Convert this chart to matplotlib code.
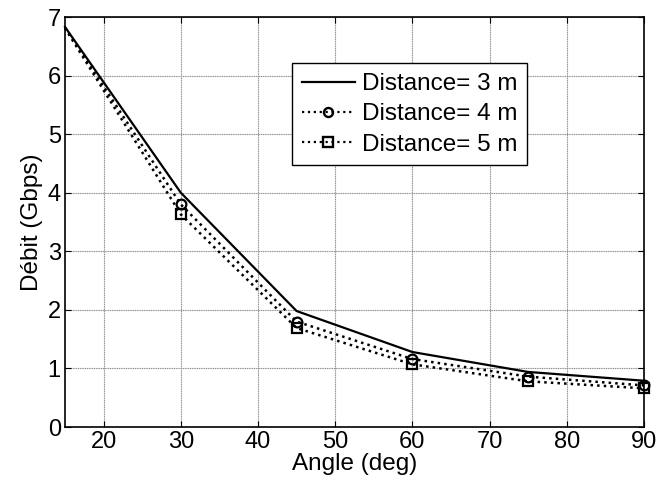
import matplotlib
matplotlib.use("Agg")
import matplotlib.pyplot as plt
from matplotlib.lines import Line2D

angles = [15, 30, 45, 60, 75, 90]
debit_3m = [6.83, 4.00, 1.98, 1.28, 0.94, 0.79]
debit_4m = [6.82, 3.80, 1.80, 1.16, 0.86, 0.71]
debit_5m = [6.81, 3.63, 1.69, 1.07, 0.78, 0.66]
labels = ["Distance= 3 m", "Distance= 4 m", "Distance= 5 m"]
xticks = [20, 30, 40, 50, 60, 70, 80, 90]
yticks = [0, 1, 2, 3, 4, 5, 6, 7]

FS_TICK = 17
FS = 17.5
plt.rcParams['font.family'] = ['Liberation Sans', 'DejaVu Sans']
fig = plt.figure(figsize=(6.59, 4.90), dpi=100)
ax = fig.add_axes([65/659, 1-427/490, 579/659, 410/490])

ax.plot(angles, debit_3m, '-', color='black', lw=1.6, clip_on=False, zorder=3)
ax.plot(angles, debit_4m, ':', color='black', lw=1.8, marker='o', ms=7,
        mfc='none', mec='black', mew=1.6, markevery=[1, 2, 3, 4, 5], clip_on=False, zorder=3)
ax.plot(angles, debit_5m, ':', color='black', lw=1.8, marker='s', ms=7.5,
        mfc='none', mec='black', mew=1.6, markevery=[1, 2, 3, 4, 5], clip_on=False, zorder=3)

ax.set_xlim(15, 90)
ax.set_ylim(0, 7)
ax.set_xticks(xticks)
ax.set_yticks(yticks)
ax.tick_params(direction='in', top=True, right=True, labelsize=FS_TICK, length=4, pad=3)
ax.grid(True, linestyle=(0, (1, 0.6)), color='#8c8c8c', lw=0.8)
for s in ax.spines.values():
    s.set_linewidth(1.2)
ax.set_xlabel("Angle (deg)", fontsize=FS, labelpad=0)
ax.set_ylabel("Débit (Gbps)", fontsize=FS, labelpad=3)

handles = [
    Line2D([], [], ls='-', color='black', lw=1.6),
    Line2D([], [], ls=':', color='black', lw=1.6, marker='o', ms=6.5, mfc='none', mec='black', mew=1.7),
    Line2D([], [], ls=':', color='black', lw=1.6, marker='s', ms=6.5, mfc='none', mec='black', mew=1.7),
]
leg = ax.legend(handles, labels, loc='upper left', bbox_to_anchor=(0.392, 0.887),
                fontsize=FS, frameon=True, fancybox=False, edgecolor='black', framealpha=1,
                borderpad=0.4, handlelength=2.2, handletextpad=0.28, labelspacing=0.34,
                borderaxespad=0, numpoints=1)
leg.get_frame().set_linewidth(1.0)

fig.savefig("out.png", dpi=100)
